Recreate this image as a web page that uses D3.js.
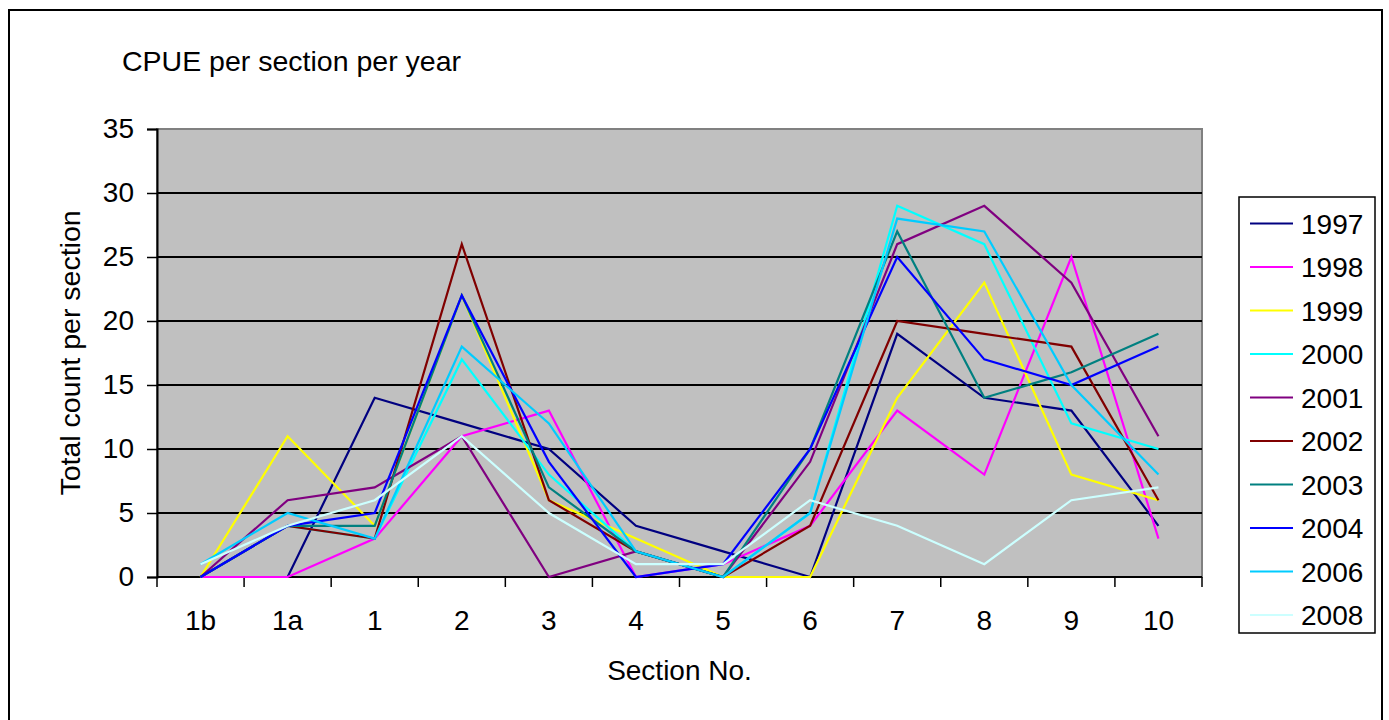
<!DOCTYPE html>
<html>
<head>
<meta charset="utf-8">
<script src="https://cdn.jsdelivr.net/npm/d3@7"></script>
<style>
  body { margin: 0; background: #fff; }
  text { font-family: "Liberation Sans", Arial, sans-serif; fill: #000; }
</style>
</head>
<body>
<script>
  const categories = ['1b', '1a', '1', '2', '3', '4', '5', '6', '7', '8', '9', '10'];
  const years = ['1997', '1998', '1999', '2000', '2001', '2002', '2003', '2004', '2006', '2008'];
  const colors = ['#000080', '#ff00ff', '#ffff00', '#00ffff', '#800080', '#800000', '#008080', '#0000ff', '#00ccff', '#ccffff'];

  const v1997 = [0, 0, 14, 12, 10, 4, 2, 0, 19, 14, 13, 4];
  const v1998 = [0, 0, 3, 11, 13, 0, 1, 4, 13, 8, 25, 3];
  const v1999 = [0, 11, 4, 22, 6, 3, 0, 0, 14, 23, 8, 6];
  const v2000 = [0, 4, 3, 17, 8, 2, 0, 5, 29, 26, 12, 10];
  const v2001 = [0, 6, 7, 11, 0, 2, 0, 9, 26, 29, 23, 11];
  const v2002 = [0, 4, 3, 26, 6, 2, 0, 4, 20, 19, 18, 6];
  const v2003 = [0, 4, 4, 22, 7, 2, 0, 10, 27, 14, 16, 19];
  const v2004 = [0, 4, 5, 22, 9, 0, 1, 10, 25, 17, 15, 18];
  const v2006 = [1, 5, 3, 18, 12, 2, 0, 5, 28, 27, 15, 8];
  const v2008 = [1, 4, 6, 11, 5, 1, 1, 6, 4, 1, 6, 7];
  const yTicks = [0, 5, 10, 15, 20, 25, 30, 35];

  const series = [v1997, v1998, v1999, v2000, v2001, v2002, v2003, v2004, v2006, v2008]
    .map((values, i) => ({ year: years[i], color: colors[i], values }));

  const width = 1389;
  const height = 720;
  const plot = { left: 157, right: 1202, top: 129, bottom: 577 };

  const svg = d3.select('body')
    .append('svg')
    .attr('width', width)
    .attr('height', height);

  // outer chart frame
  svg.append('rect')
    .attr('x', 9).attr('y', 10)
    .attr('width', 1373).attr('height', 740)
    .attr('fill', '#fff')
    .attr('stroke', '#000')
    .attr('stroke-width', 2);

  const x = d3.scaleBand()
    .domain(categories)
    .range([plot.left, plot.right]);

  const y = d3.scaleLinear()
    .domain([0, 35])
    .range([plot.bottom, plot.top]);

  // plot area
  svg.append('rect')
    .attr('x', plot.left).attr('y', plot.top)
    .attr('width', plot.right - plot.left)
    .attr('height', plot.bottom - plot.top)
    .attr('fill', '#c0c0c0')
    .attr('stroke', '#808080')
    .attr('stroke-width', 2);

  svg.append('g')
    .selectAll('line')
    .data(yTicks.filter(d => d > 0 && d < 35))
    .enter()
    .append('line')
    .attr('x1', plot.left).attr('x2', plot.right)
    .attr('y1', d => y(d)).attr('y2', d => y(d))
    .attr('stroke', '#000')
    .attr('stroke-width', 2);

  // y axis
  const yAxis = svg.append('g')
    .attr('transform', `translate(${plot.left},0)`)
    .call(d3.axisLeft(y).tickValues(yTicks).tickSize(10).tickPadding(13));
  yAxis.select('.domain').attr('stroke', '#000').attr('stroke-width', 2);
  yAxis.selectAll('.tick line').attr('stroke', '#000').attr('stroke-width', 1.5);
  yAxis.selectAll('.tick text')
    .attr('font-size', '28px')
    .attr('font-family', '"Liberation Sans", Arial, sans-serif');

  // x axis, ticks on band edges
  const xAxis = svg.append('g')
    .attr('transform', `translate(0,${plot.bottom})`);
  xAxis.append('line')
    .attr('x1', plot.left).attr('x2', plot.right)
    .attr('stroke', '#000').attr('stroke-width', 2);
  xAxis.selectAll('.edge')
    .data(categories.concat(['end']))
    .enter()
    .append('line')
    .attr('class', 'edge')
    .attr('x1', (d, i) => i < categories.length ? x(d) : plot.right)
    .attr('x2', (d, i) => i < categories.length ? x(d) : plot.right)
    .attr('y1', 0).attr('y2', 10)
    .attr('stroke', '#000').attr('stroke-width', 1.5);
  xAxis.selectAll('text')
    .data(categories)
    .enter()
    .append('text')
    .attr('x', d => x(d) + x.bandwidth() / 2)
    .attr('y', 53)
    .attr('text-anchor', 'middle')
    .attr('font-size', '28px')
    .text(d => d);

  // lines
  const line = d3.line()
    .x((d, i) => x(categories[i]) + x.bandwidth() / 2)
    .y(d => y(d));

  svg.append('g')
    .selectAll('path')
    .data(series)
    .enter()
    .append('path')
    .attr('d', d => line(d.values))
    .attr('fill', 'none')
    .attr('stroke', d => d.color)
    .attr('stroke-width', 2.2)
    .attr('stroke-linejoin', 'miter');

  // titles
  svg.append('text')
    .attr('x', 122).attr('y', 71)
    .attr('font-size', '28.5px')
    .text('CPUE per section per year');

  svg.append('text')
    .attr('transform', `translate(80,${(plot.top + plot.bottom) / 2}) rotate(-90)`)
    .attr('text-anchor', 'middle')
    .attr('font-size', '28.5px')
    .text('Total count per section');

  svg.append('text')
    .attr('x', (plot.left + plot.right) / 2).attr('y', 680)
    .attr('text-anchor', 'middle')
    .attr('font-size', '28px')
    .text('Section No.');

  // legend
  const legend = svg.append('g');
  legend.append('rect')
    .attr('x', 1239).attr('y', 197)
    .attr('width', 136).attr('height', 436)
    .attr('fill', '#fff')
    .attr('stroke', '#000')
    .attr('stroke-width', 1.5);

  const item = legend.selectAll('.item')
    .data(series)
    .enter()
    .append('g')
    .attr('class', 'item')
    .attr('transform', (d, i) => `translate(1250,${223.5 + i * 43.5})`);
  item.append('line')
    .attr('x1', 0).attr('x2', 43)
    .attr('stroke', d => d.color)
    .attr('stroke-width', 2.2);
  item.append('text')
    .attr('x', 51).attr('y', 10)
    .attr('font-size', '28px')
    .text(d => d.year);
</script>
</body>
</html>
